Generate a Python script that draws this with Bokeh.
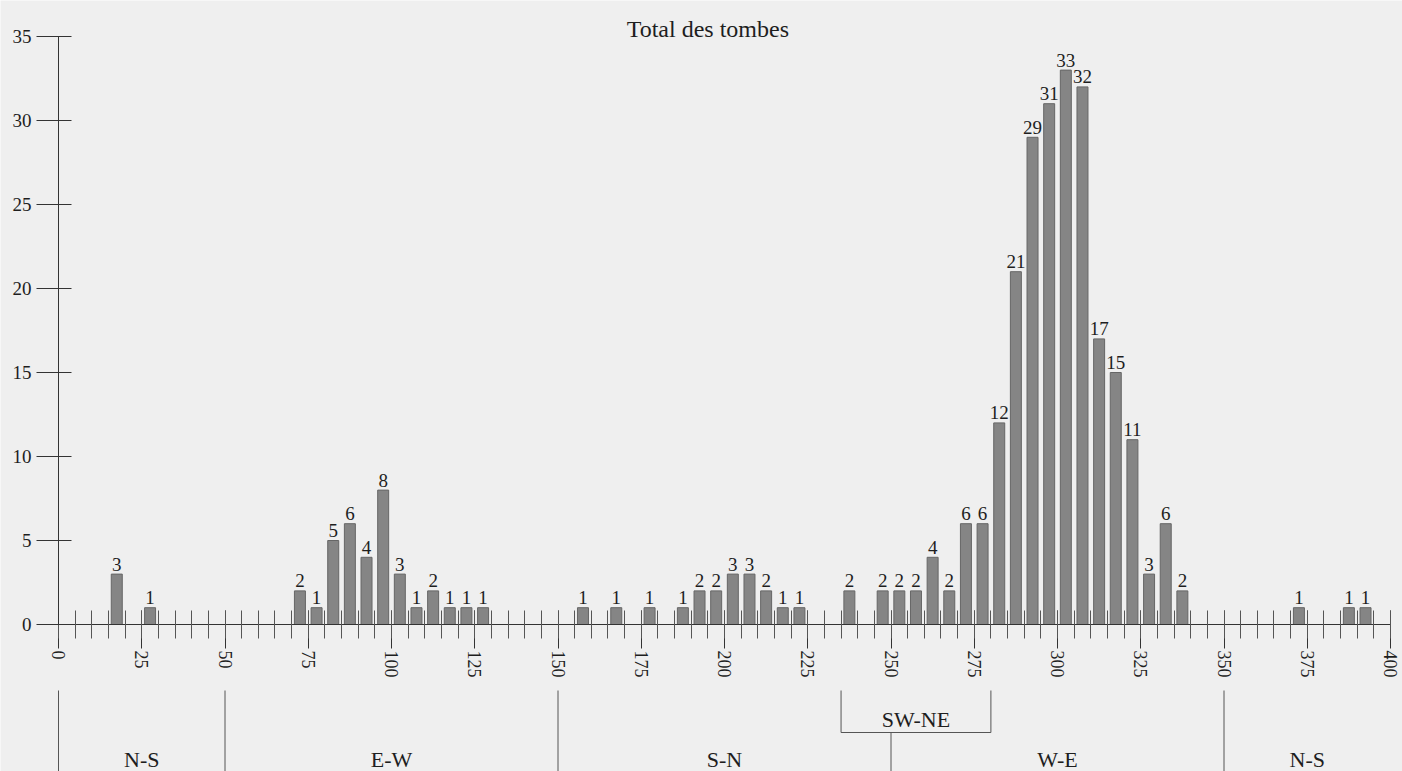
from bokeh.plotting import figure
from bokeh.models import (LinearAxis, SingleIntervalTicker, Range1d, ColumnDataSource, Label)
from bokeh.core.properties import value
from bokeh.embed import file_html
from bokeh.resources import INLINE

# ---- data ----
bin_start = [15, 25, 70, 75, 80, 85, 90, 95, 100, 105, 110, 115, 120, 125,
             155, 165, 175, 185, 190, 195, 200, 205, 210, 215, 220,
             235, 245, 250, 255, 260, 265, 270, 275, 280, 285, 290, 295, 300,
             305, 310, 315, 320, 325, 330, 335, 370, 385, 390]
counts = [3, 1, 2, 1, 5, 6, 4, 8, 3, 1, 2, 1, 1, 1,
          1, 1, 1, 1, 2, 2, 3, 3, 2, 1, 1,
          2, 2, 2, 2, 4, 2, 6, 6, 12, 21, 29, 31, 33,
          32, 17, 15, 11, 3, 6, 2, 1, 1, 1]
bin_width = 5
sector_bounds = [0, 50, 150, 350]
sector_centers = [25, 100, 200, 300, 375]
sector_labels = ["N-S", "E-W", "S-N", "W-E", "N-S"]
swne_range = [235, 280]
swne_split = 250
swne_label = "SW-NE"
title_text = "Total des tombes"

# ---- layout constants ----
W, H = 1402, 771
X0_PX, XSCALE = 58, 3.33      # px of x=0 within canvas, px per unit
Y0_PX, YSCALE = 624, 16.8     # px of y=0 from top, px per unit
FONT = "Liberation Serif"
INK = "#1e1e1e"
BG = "#efefef"

def ypx(screen_y):  # convert canvas px (from top) to data y
    return (Y0_PX - screen_y) / YSCALE

x_start = -X0_PX / XSCALE
x_end = (W - X0_PX) / XSCALE
y_end = Y0_PX / YSCALE
y_start = -(H - Y0_PX) / YSCALE

p = figure(width=W, height=H, output_backend="svg", toolbar_location=None,
           x_axis_type=None, y_axis_type=None,
           x_range=Range1d(x_start, x_end), y_range=Range1d(y_start, y_end),
           min_border=0, min_border_left=0, min_border_right=0,
           min_border_top=0, min_border_bottom=0)
p.background_fill_color = BG
p.border_fill_color = BG
p.outline_line_color = None
p.grid.visible = False

# axes
xaxis = LinearAxis(ticker=SingleIntervalTicker(interval=25, num_minor_ticks=5),
                   fixed_location=0, bounds=(0, 400))
xaxis.axis_line_color = "#333333"
xaxis.major_tick_line_color = "#333333"
xaxis.minor_tick_line_color = "#555555"
xaxis.major_tick_in = 14
xaxis.major_tick_out = 24
xaxis.minor_tick_in = 14
xaxis.minor_tick_out = 14
xaxis.major_label_orientation = "vertical"
xaxis.major_label_standoff = 2
xaxis.major_label_text_font = FONT
xaxis.major_label_text_font_size = "18px"
xaxis.major_label_text_color = INK
p.add_layout(xaxis, "below")

yaxis = LinearAxis(ticker=SingleIntervalTicker(interval=5, num_minor_ticks=0),
                   fixed_location=0, bounds=(0, 35))
yaxis.axis_line_color = "#333333"
yaxis.major_tick_line_color = "#333333"
yaxis.major_tick_in = 13
yaxis.major_tick_out = 22
yaxis.minor_tick_line_color = None
yaxis.major_label_standoff = 5
yaxis.major_label_text_font = FONT
yaxis.major_label_text_font_size = "19px"
yaxis.major_label_text_color = INK
p.add_layout(yaxis, "left")

# bars
centers = [b + bin_width / 2 for b in bin_start]
src = ColumnDataSource(dict(x=centers, top=counts, lab=[str(c) for c in counts]))
p.vbar(x="x", top="top", bottom=0, width=3.3, source=src,
       fill_color="#858585", line_color="#666666", line_width=1)
p.text(x="x", y="top", text="lab", source=src, text_align="center",
       text_baseline="middle", y_offset=-10,
       text_font=value(FONT), text_font_size="19px", text_color=INK)

# title
p.add_layout(Label(x=195, y=ypx(28), text=title_text, text_align="center",
                   text_baseline="alphabetic", text_font=FONT,
                   text_font_size="24px", text_color=INK))

# sector annotations
top_y = ypx(690)
box_y = ypx(732)
p.segment(x0=sector_bounds, x1=sector_bounds,
          y0=[top_y] * len(sector_bounds), y1=[y_start] * len(sector_bounds),
          line_color="#555555", line_width=1)
p.segment(x0=[swne_range[0], swne_range[1], swne_range[0], swne_split],
          x1=[swne_range[0], swne_range[1], swne_range[1], swne_split],
          y0=[top_y, top_y, box_y, box_y],
          y1=[box_y, box_y, box_y, y_start],
          line_color="#555555", line_width=1)
p.text(x=sector_centers, y=[ypx(759)] * len(sector_centers), text=sector_labels,
       text_align="center", text_baseline="middle",
       text_font=value(FONT), text_font_size="22px", text_color=INK)
p.text(x=[(swne_range[0] + swne_range[1]) / 2], y=[ypx(719)], text=[swne_label],
       text_align="center", text_baseline="middle",
       text_font=value(FONT), text_font_size="22px", text_color=INK)

open("out.html", "w").write(file_html(p, INLINE))
